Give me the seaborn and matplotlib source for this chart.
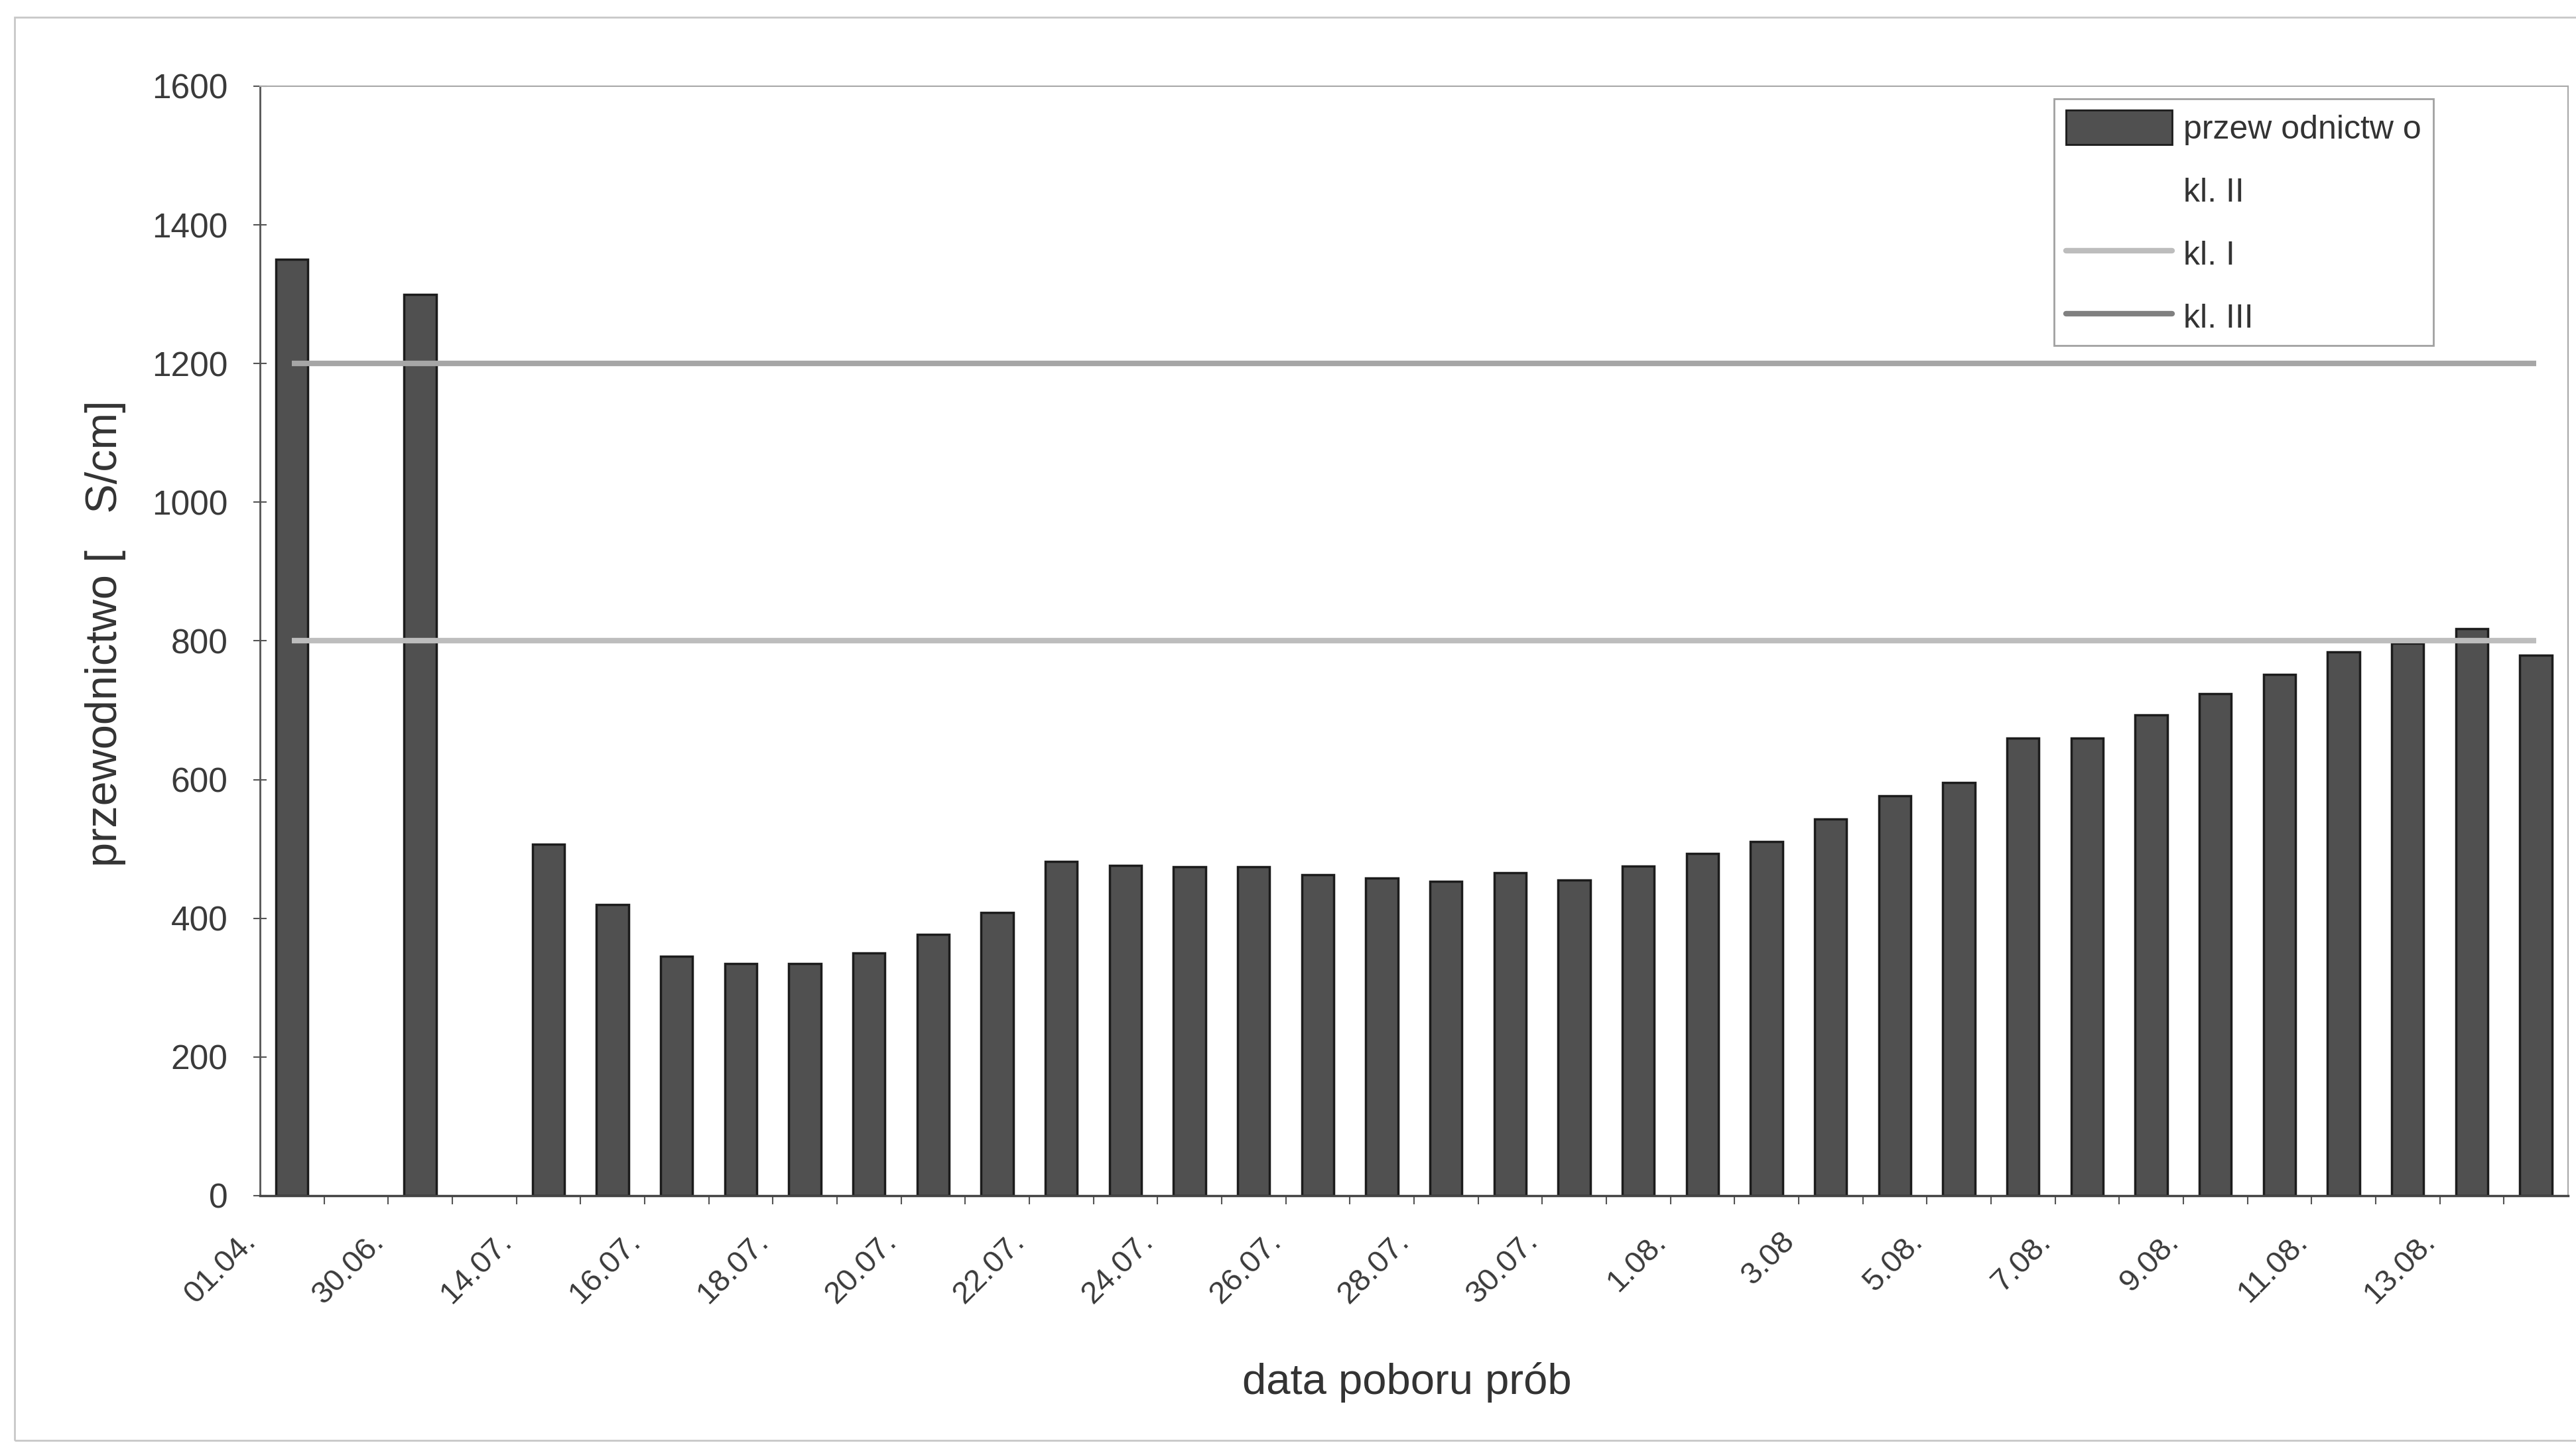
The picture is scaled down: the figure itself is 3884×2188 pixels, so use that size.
import numpy as np
import pandas as pd
import seaborn as sns
import matplotlib.pyplot as plt
import matplotlib.transforms as mtransforms
from matplotlib.lines import Line2D
from matplotlib.patches import Patch, Rectangle

# Sampling dates shown on the category axis (every second sample is labelled)
tick_labels = ["01.04.", "30.06.", "14.07.", "16.07.", "18.07.", "20.07.",
               "22.07.", "24.07.", "26.07.", "28.07.", "30.07.", "1.08.",
               "3.08", "5.08.", "7.08.", "9.08.", "11.08.", "13.08."]

# Conductivity of each sample [µS/cm]; empty slots have no measurement
conductivity = [1350, np.nan, 1300, np.nan, 507, 420, 345, 335, 335, 350,
                377, 408, 482, 476, 474, 474, 463, 458, 453, 466,
                455, 475, 493, 511, 543, 577, 596, 660, 660, 693,
                724, 752, 784, 797, 818, 779]

# Water quality class limits
class_names = ["kl. I", "kl. III"]
class_limits = [800, 1200]
class_colors = ["#bdbdbd", "#a6a6a6"]

bar_face = "#505050"
bar_edge = "#1c1c1c"

sns.set_theme(style="white")
plt.rcParams["font.family"] = ["Liberation Sans", "DejaVu Sans"]

df = pd.DataFrame({"probka": np.arange(len(conductivity)),
                   "przewodnictwo": conductivity})

fig = plt.figure(figsize=(38.84, 21.88), dpi=100)
ax = fig.add_axes([0.1009, 0.176, 0.896, 0.7646])

sns.barplot(data=df, x="probka", y="przewodnictwo", color=bar_face,
            saturation=1, width=0.5, edgecolor=bar_edge, linewidth=2.5,
            errorbar=None, ax=ax, zorder=2)

n = len(conductivity)
for lim, col in zip(class_limits, class_colors):
    ax.hlines(lim, 0, n - 1, colors=col, linewidth=6, zorder=3)

ax.set_xlim(-0.5, n - 0.5)
ax.set_ylim(0, 1600)
ax.set_yticks(np.arange(0, 1601, 200))

ax.set_xticks(np.arange(0.5, n - 0.5, 1), minor=True)
ax.tick_params(axis="x", which="major", length=0, pad=34)
ax.tick_params(axis="x", which="minor", bottom=True, direction="out",
               length=9, width=1.5, color="#555555")
ax.tick_params(axis="y", left=True, direction="inout", length=14, width=1.5,
               color="#555555", pad=28, labelsize=37, labelcolor="#3a3a3a")

ax.set_xticks(np.arange(0, n, 2))
ax.set_xticklabels(tick_labels, rotation=45, ha="right", va="top",
                   fontsize=34, color="#3a3a3a")
shift = mtransforms.ScaledTranslation(-0.46, 0.0, fig.dpi_scale_trans)
for lbl in ax.get_xticklabels():
    lbl.set_transform(lbl.get_transform() + shift)

for side in ["top", "right"]:
    ax.spines[side].set_color("#a8a8a8")
    ax.spines[side].set_linewidth(1.5)
ax.spines["left"].set_color("#555555")
ax.spines["left"].set_linewidth(2)
ax.spines["bottom"].set_color("#444444")
ax.spines["bottom"].set_linewidth(2.5)

ax.set_ylabel("przewodnictwo [   S/cm]", fontsize=48, color="#333333")
ax.yaxis.set_label_coords(-0.058, 0.507)
ax.set_xlabel("data poboru prób", fontsize=47, color="#333333")
ax.xaxis.set_label_coords(0.497, -0.150)

handles = [Patch(facecolor=bar_face, edgecolor=bar_edge, linewidth=2),
           Line2D([], [], color="white", linewidth=6),
           Line2D([], [], color=class_colors[0], linewidth=6),
           Line2D([], [], color="#808080", linewidth=6)]
labels = ["przew odnictw o", "kl. II", "kl. I", "kl. III"]
leg = fig.legend(handles, labels, loc="upper left",
                 bbox_to_anchor=(0.7975, 0.932), bbox_transform=fig.transFigure,
                 borderaxespad=0, frameon=True, fancybox=False,
                 edgecolor="#8a8a8a", fontsize=36, labelspacing=0.85,
                 handlelength=3.2, handleheight=1.2, handletextpad=0.35,
                 borderpad=0.35)
leg.get_frame().set_linewidth(2)
for t in leg.get_texts():
    t.set_color("#333333")

# Chart-area border
fig.add_artist(Rectangle((0.0057, 0.0073), 1.0, 0.981, transform=fig.transFigure,
                         fill=False, edgecolor="#c8c8c8", linewidth=2))

fig.savefig("out.png", dpi=100, facecolor="white")
